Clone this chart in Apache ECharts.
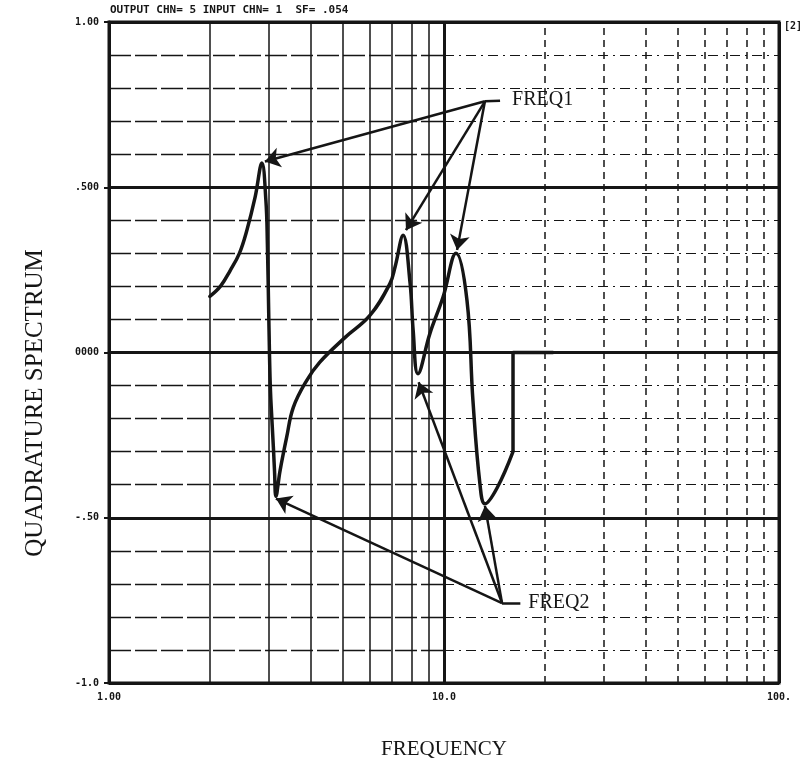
<!DOCTYPE html>
<html>
<head>
<meta charset="utf-8">
<script src="https://cdn.jsdelivr.net/npm/echarts@6/dist/echarts.min.js"></script>
<style>
  html, body { margin: 0; padding: 0; background: #fff; }
  #chart { width: 808px; height: 765px; }
</style>
</head>
<body>
<div id="chart"></div>
<script>
// Quadrature spectrum trace (frequency, value)
const freqTrace = [2.0, 2.15, 2.30, 2.45, 2.58, 2.73, 2.86, 2.94, 2.97, 3.00, 3.03, 3.07, 3.10, 3.12, 3.15,
  3.24, 3.39, 3.55, 3.89, 4.26, 5.06, 6.01, 6.90, 7.14, 7.55, 7.92, 8.09, 8.36, 9.08, 9.93, 10.86,
  11.71, 12.2, 12.8, 13.25, 14.4, 16.07];
const quadTrace = [0.17, 0.20, 0.248, 0.30, 0.37, 0.47, 0.573, 0.46, 0.33, 0.10, -0.10, -0.22, -0.30, -0.36, -0.435,
  -0.358, -0.257, -0.166, -0.085, -0.029, 0.045, 0.112, 0.209, 0.258, 0.355, 0.21, 0.067, -0.064, 0.058, 0.167, 0.30,
  0.158, -0.145, -0.397, -0.458, -0.41, -0.30];
// Step back to zero and the flat tail
const freqTail = [16.07, 16.07, 21.2];
const quadTail = [-0.30, 0.0, 0.0];

// Peak / trough annotations
const freq1Origin = [13.25, 0.76];
const freq1Stub = [14.7, 0.762];
const freq1Targets = [[2.92, 0.578], [7.70, 0.37], [10.94, 0.31]];
const freq2Origin = [14.9, -0.758];
const freq2Stub = [16.9, -0.758];
const freq2Targets = [[3.15, -0.442], [8.40, -0.09], [13.25, -0.464]];

// Axis ticks and labels
const xTickLabels = { 1: '1.00', 10: '10.0', 100: '100.' };
const yTickLabels = { '1': '1.00', '0.5': '.500', '0': '0000', '-0.5': '-.50', '-1': '-1.0' };
const xMinorLow = [2, 3, 4, 5, 6, 7, 8, 9];
const xMinorHigh = [20, 30, 40, 50, 60, 70, 80, 90];
const yMinor = [-0.9, -0.8, -0.7, -0.6, -0.4, -0.3, -0.2, -0.1, 0.1, 0.2, 0.3, 0.4, 0.6, 0.7, 0.8, 0.9];

const ink = '#151515';
const tickFont = { fontFamily: 'DejaVu Sans Mono', fontWeight: 'bold', fontSize: 10, color: ink };

const gridLines = [];
xMinorLow.forEach(v => gridLines.push({ xAxis: v, lineStyle: { type: 'solid', width: 1.5, color: ink } }));
xMinorHigh.forEach(v => gridLines.push({ xAxis: v, lineStyle: { type: [7, 5], width: 1.5, color: ink } }));
yMinor.forEach(v => {
  gridLines.push([{ coord: [1, v], lineStyle: { type: [22, 4], width: 1.4, color: ink } }, { coord: [10, v] }]);
  gridLines.push([{ coord: [10, v], lineStyle: { type: [10, 5, 2, 5], width: 1.2, color: ink } }, { coord: [100, v] }]);
});

const arrows = [];
freq1Targets.forEach(t => arrows.push([{ coord: freq1Origin }, { coord: t }]));
freq2Targets.forEach(t => arrows.push([{ coord: freq2Origin }, { coord: t }]));

const stubs = [
  [{ coord: freq1Origin, label: { formatter: 'FREQ1', distance: 12 } }, { coord: freq1Stub }],
  [{ coord: freq2Origin, label: { formatter: 'FREQ2', distance: 8 } }, { coord: freq2Stub }]
];

const chart = echarts.init(document.getElementById('chart'), null, { renderer: 'canvas' });
chart.setOption({
  animation: false,
  backgroundColor: '#fff',
  grid: {
    left: 109, right: 29, top: 22, bottom: 82,
    show: true, borderWidth: 3, borderColor: ink, backgroundColor: '#fff'
  },
  xAxis: {
    type: 'log', logBase: 10, min: 1, max: 100,
    name: 'FREQUENCY', nameLocation: 'middle', nameGap: 56,
    nameTextStyle: { fontFamily: 'Liberation Serif', fontSize: 21, color: ink },
    axisLine: { show: true, lineStyle: { color: ink, width: 3 } },
    axisTick: { show: true, length: 4, lineStyle: { color: ink, width: 2 } },
    axisLabel: { ...tickFont, margin: 9, formatter: v => xTickLabels[Math.round(v)] || '' },
    splitLine: { show: true, lineStyle: { color: ink, width: 3 } },
    minorTick: { show: false }, minorSplitLine: { show: false }
  },
  yAxis: {
    type: 'value', min: -1, max: 1, interval: 0.5,
    axisLine: { show: true, lineStyle: { color: ink, width: 3 } },
    axisTick: { show: true, length: 5, lineStyle: { color: ink, width: 2 } },
    axisLabel: { ...tickFont, margin: 10, formatter: v => yTickLabels[String(Math.round(v * 10) / 10)] || '' },
    splitLine: { show: true, lineStyle: { color: ink, width: 3 } }
  },
  graphic: [
    {
      type: 'text', left: 110, top: 5,
      style: { text: 'OUTPUT CHN= 5 INPUT CHN= 1  SF= .054', font: 'bold 11px "DejaVu Sans Mono"', fill: ink }
    },
    {
      type: 'text', left: 784, top: 21,
      style: { text: '[2]', font: 'bold 10px "DejaVu Sans Mono"', fill: ink }
    },
    {
      type: 'text', x: 35, y: 403, rotation: Math.PI / 2,
      style: {
        text: 'QUADRATURE SPECTRUM', font: '25px "Liberation Serif"', fill: ink,
        textAlign: 'center', textVerticalAlign: 'middle'
      }
    }
  ],
  series: [
    {
      name: 'grid', type: 'line', data: [], z: 1, silent: true,
      markLine: { silent: true, symbol: ['none', 'none'], label: { show: false }, animation: false, data: gridLines }
    },
    {
      name: 'quadrature', type: 'line', z: 5, silent: true,
      data: freqTrace.map((f, i) => [f, quadTrace[i]]),
      smooth: 0.4, showSymbol: false,
      lineStyle: { color: ink, width: 3.5, cap: 'round', join: 'round' }
    },
    {
      name: 'quadrature tail', type: 'line', z: 5, silent: true,
      data: freqTail.map((f, i) => [f, quadTail[i]]),
      showSymbol: false,
      lineStyle: { color: ink, width: 3.5, join: 'round' }
    },
    {
      name: 'annotations', type: 'line', data: [], z: 6, silent: true,
      markLine: {
        silent: true, animation: false,
        symbol: ['none', 'arrow'], symbolSize: 15,
        lineStyle: { color: ink, width: 2.5, type: 'solid' },
        itemStyle: { color: ink },
        label: { show: false },
        data: arrows
      }
    },
    {
      name: 'labels', type: 'line', data: [], z: 6, silent: true,
      markLine: {
        silent: true, animation: false,
        symbol: ['none', 'none'],
        lineStyle: { color: ink, width: 2.5, type: 'solid' },
        label: { show: true, position: 'end', fontFamily: 'Liberation Serif', fontSize: 20, color: ink },
        data: stubs
      }
    }
  ]
});
</script>
</body>
</html>
